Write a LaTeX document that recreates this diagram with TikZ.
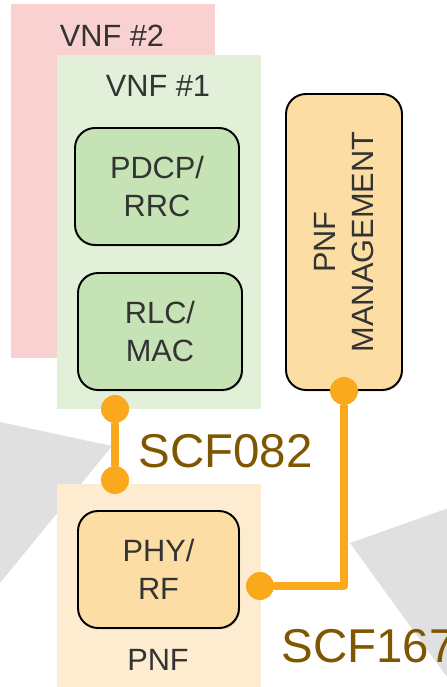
\documentclass[tikz,border=0pt]{standalone}
\usepackage{fontspec}
\setmainfont{Liberation Sans}
\usetikzlibrary{shadows}

\definecolor{vnfpink}{HTML}{F9D1D1}
\definecolor{vnfgreen}{HTML}{E2F0D9}
\definecolor{boxgreen}{HTML}{C5E3B5}
\definecolor{pnfpale}{HTML}{FDECCF}
\definecolor{boxorange}{HTML}{FCDDA3}
\definecolor{linkorange}{HTML}{F9A91B}
\definecolor{scfbrown}{HTML}{7F5700}
\definecolor{txtgray}{HTML}{333333}
\definecolor{backgray}{HTML}{E0E0E0}

\begin{document}
\begin{tikzpicture}[x=0.2mm,y=-0.2mm,
  region/.style={inner sep=0pt,minimum width=40.8mm},
  title/.style={text=txtgray,font=\fontsize{17.5}{21}\selectfont},
  block/.style={draw=black,line width=1.1pt,rounded corners=4mm,
    text=txtgray,align=center,font=\fontsize{17.5}{21.6}\selectfont,
    drop shadow={opacity=0.22,shadow xshift=0.7pt,shadow yshift=-0.9pt}},
  dot/.style={circle,fill=linkorange,inner sep=0pt,minimum size=5.6mm},
  link/.style={draw=linkorange,line width=1.6mm},
  scf/.style={text=scfbrown,anchor=base west,inner sep=0pt,font=\fontsize{27}{31}\selectfont}]
\useasboundingbox (0,0) rectangle (447,687);
\clip (0,0) rectangle (447,687);

% grey wedges of the surrounding figure
\fill[backgray] (0,422) -- (112,446) -- (0,583) -- cycle;
\fill[backgray] (350,543) -- (460,504) -- (460,695) -- cycle;

% virtual and physical network functions
\node[region,fill=vnfpink,minimum height=70.8mm] (vnf2) at (113,181) {};
\node[title] (vnf2t) at (112,36) {VNF \#2};
\node[region,fill=vnfgreen,minimum height=70.8mm] (vnf1) at (159,232) {};
\node[title] (vnf1t) at (158,86) {VNF \#1};
\node[region,fill=pnfpale,minimum height=43mm] (pnf) at (159,591) {};
\node[title] (pnft) at (158,660) {PNF};

\node[block,fill=boxgreen,minimum width=32.8mm,minimum height=23.4mm] (pdcp) at (157,186.5) {PDCP/\\RRC};
\node[block,fill=boxgreen,minimum width=32.8mm,minimum height=23.4mm] (rlc) at (160,331.5) {RLC/\\MAC};
\node[block,fill=boxorange,minimum width=32.2mm,minimum height=23.4mm] (phy) at (158.5,569.5) {PHY/\\RF};
\node[block,fill=boxorange,minimum width=23.2mm,minimum height=59.2mm] (mgmt) at (344,242) {};
\node[rotate=90,align=center,text=txtgray,font=\fontsize{17.5}{21.6}\selectfont] (mgmtt) at (mgmt.center) {PNF\\MANAGEMENT};

% split interfaces
\node[dot] (d1) at (115,409) {};
\node[dot] (d2) at (115,480) {};
\node[dot] (d3) at (mgmt.south) {};
\node[dot] (d4) at (260,586) {};
\coordinate (bend) at (d3 |- d4);

\draw[link] (d1) -- (d2);
\draw[link,line join=round] (d3) -- (bend) -- (d4);

\node[scf] (scf082) at (138,467) {SCF082};
\node[scf] (scf167) at (281,662) {SCF167};
\end{tikzpicture}
\end{document}
